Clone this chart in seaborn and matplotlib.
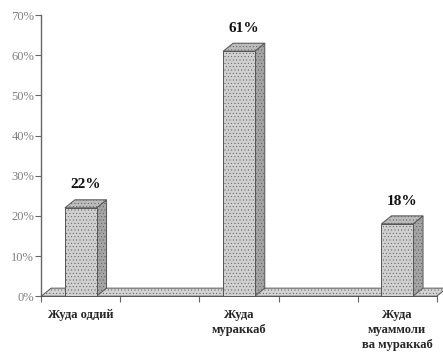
import numpy as np
import pandas as pd
import seaborn as sns
import matplotlib
matplotlib.use('Agg')
import matplotlib.pyplot as plt
from matplotlib.patches import Polygon
from matplotlib.ticker import PercentFormatter, FixedLocator

# Данные
categories = ['Жуда оддий', 'Жуда\nмураккаб', 'Жуда\nмуаммоли\nва мураккаб']
values = [0.22, 0.61, 0.18]
value_labels = ['22%', '61%', '18%']

sns.set_style('white')
plt.rcParams['font.family'] = ['Liberation Serif', 'DejaVu Serif']
plt.rcParams['hatch.color'] = '#b0b0b0'
plt.rcParams['hatch.linewidth'] = 0.3

df = pd.DataFrame({'cat': categories, 'val': values})

fig = plt.figure(figsize=(4.43, 3.59), dpi=100)
ax = fig.add_axes([0.093, 0.175, 0.893, 0.783])

bar_w = 0.2
sns.barplot(data=df, x='cat', y='val', width=bar_w, color='#d0d0d0',
            saturation=1, edgecolor='#555555', linewidth=0.7, ax=ax, zorder=4)

for p in ax.patches:
    p.set_hatch('.....')

xmin, xmax = -0.25, 2.25
ax.set_xlim(xmin, xmax)
ax.set_ylim(0, 0.70)

# глубина псевдо-3D
dx, dy = 0.063, 0.02

# пол
floor = Polygon([(xmin, 0), (xmax, 0), (xmax + dx, dy), (xmin + dx, dy)],
                closed=True, facecolor='#d4d4d4', edgecolor='#555555',
                linewidth=0.7, hatch='.....', zorder=2, clip_on=False)
ax.add_patch(floor)

# боковые и верхние грани столбцов
for p in list(ax.patches):
    if p is floor:
        continue
    x0 = p.get_x()
    x1 = x0 + p.get_width()
    h = p.get_height()
    side = Polygon([(x1, 0), (x1 + dx, dy), (x1 + dx, h + dy), (x1, h)],
                   closed=True, facecolor='#a5a5a5', edgecolor='#555555',
                   linewidth=0.7, hatch='.....', zorder=3, clip_on=False)
    top = Polygon([(x0, h), (x1, h), (x1 + dx, h + dy), (x0 + dx, h + dy)],
                  closed=True, facecolor='#bcbcbc', edgecolor='#555555',
                  linewidth=0.7, hatch='.....', zorder=3, clip_on=False)
    ax.add_patch(side)
    ax.add_patch(top)

# подписи значений
for i, (v, lab) in enumerate(zip(values, value_labels)):
    ax.annotate(lab, (i + dx / 2, v + dy), textcoords='offset points',
                xytext=(0, 6), ha='center', va='bottom',
                fontsize=11, fontweight='bold', color='#111111')

ax.yaxis.set_major_formatter(PercentFormatter(1.0, decimals=0))
ax.set_yticks(np.arange(0, 0.71, 0.1))
ax.tick_params(axis='y', direction='out', length=4, width=0.8, color='#666666',
               labelsize=9, labelcolor='#808080', pad=1, left=True)

ax.xaxis.set_minor_locator(FixedLocator(np.arange(xmin, xmax + 0.01, 0.5)))
ax.tick_params(axis='x', which='minor', direction='out', length=4, width=0.8,
               color='#666666', bottom=True)
ax.tick_params(axis='x', which='major', length=0, labelsize=9, pad=9)
for t in ax.get_xticklabels():
    t.set_fontweight('bold')
    t.set_linespacing(1.35)
    t.set_va('top')

ax.set_xlabel('')
ax.set_ylabel('')
for s in ['top', 'right']:
    ax.spines[s].set_visible(False)
ax.spines['left'].set_color('#666666')
ax.spines['left'].set_linewidth(1.0)
ax.spines['bottom'].set_color('#555555')
ax.spines['bottom'].set_linewidth(0.7)

fig.savefig('out.png', dpi=100)
